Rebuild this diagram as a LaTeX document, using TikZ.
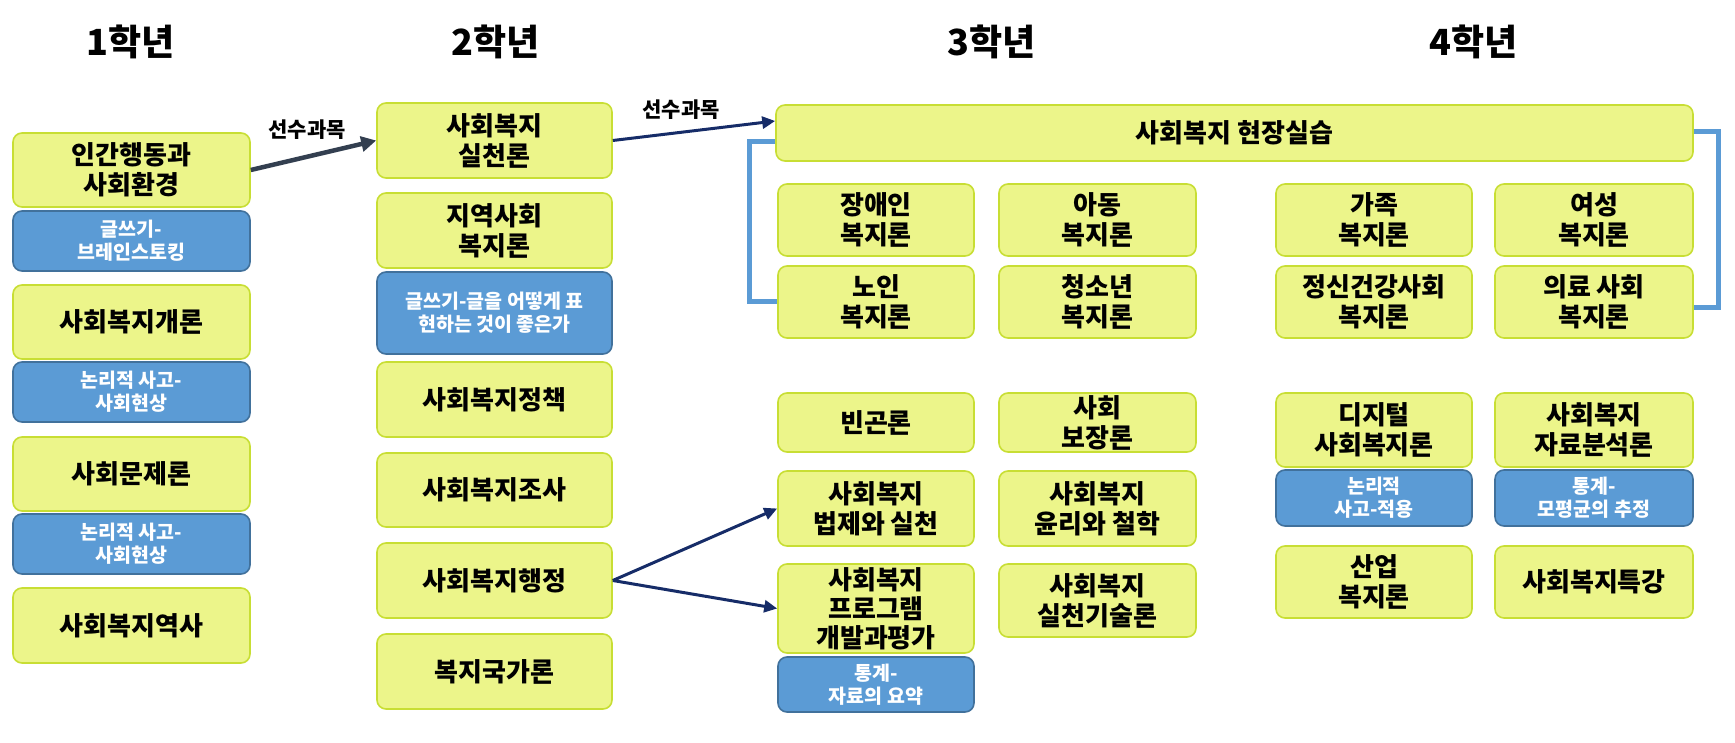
\documentclass[tikz,border=0pt]{standalone}
\usepackage{fontspec}
\setmainfont{Noto Sans CJK KR}[BoldFont={Noto Sans CJK KR Black}]
\usetikzlibrary{arrows.meta}
\definecolor{yfl}{RGB}{236,245,138}
\definecolor{ybd}{RGB}{200,222,52}
\definecolor{bfl}{RGB}{91,155,213}
\definecolor{bbd}{RGB}{65,113,156}
\definecolor{arA}{RGB}{51,63,80}
\definecolor{arB}{RGB}{22,44,104}
\definecolor{brc}{RGB}{91,155,213}
\tikzset{
  yb/.style={draw=ybd, fill=yfl, line width=1.6pt, rounded corners=9pt, align=center, inner sep=0pt,
    font=\bfseries\fontsize{26}{30}\selectfont, text=black},
  bb/.style={draw=bbd, fill=bfl, line width=1.6pt, rounded corners=9pt, align=center, inner sep=0pt,
    font=\bfseries\fontsize{19.5}{23}\selectfont, text=white},
  hd/.style={font=\bfseries\fontsize{36}{42}\selectfont},
  lab/.style={font=\bfseries\fontsize{21}{24}\selectfont},
  sz/.style 2 args={minimum width=#1pt, minimum height=#2pt},
  arrA/.style={draw=arA, line width=4.5pt, -{Triangle[length=15pt,width=15pt]}},
  arrB/.style={draw=arB, line width=3pt, -{Triangle[length=13pt,width=12pt]}},
  brk/.style={draw=brc, line width=5pt}
}
\begin{document}
\begin{tikzpicture}[x=1pt,y=-1pt]
\path[use as bounding box] (0,0) rectangle (1735,743);
% headers
\node[hd] (h1) at (130.5,42) {1학년};
\node[hd] (h2) at (496,42) {2학년};
\node[hd] (h3) at (992,42) {3학년};
\node[hd] (h4) at (1474,42) {4학년};
% column 1
\node[yb, sz={237}{74}] (n11) at (131.5,170) {인간행동과\\사회환경};
\node[bb, sz={237}{60}] (b11) at (131.5,241) {글쓰기-\\브레인스토킹};
\node[yb, sz={237}{74}] (n12) at (131.5,322) {사회복지개론};
\node[bb, sz={237}{60}] (b12) at (131.5,392) {논리적 사고-\\사회현상};
\node[yb, sz={237}{74}] (n13) at (131.5,474) {사회문제론};
\node[bb, sz={237}{60}] (b13) at (131.5,544) {논리적 사고-\\사회현상};
\node[yb, sz={237}{75}] (n14) at (131.5,625.5) {사회복지역사};
% column 2
\node[yb, sz={235}{75}] (n21) at (494.5,140.5) {사회복지\\실천론};
\node[yb, sz={235}{75}] (n22) at (494.5,230.5) {지역사회\\복지론};
\node[bb, sz={235}{82}] (b21) at (494.5,313) {글쓰기-글을 어떻게 표\\현하는 것이 좋은가};
\node[yb, sz={235}{75}] (n23) at (494.5,399.5) {사회복지정책};
\node[yb, sz={235}{74}] (n24) at (494.5,490) {사회복지조사};
\node[yb, sz={235}{75}] (n25) at (494.5,580.5) {사회복지행정};
\node[yb, sz={235}{75}] (n26) at (494.5,671.5) {복지국가론};
% top practicum
\node[yb, sz={917}{56}] (n30) at (1234.5,133) {사회복지 현장실습};
% column 3
\node[yb, sz={196}{72}] (n31) at (876,220) {장애인\\복지론};
\node[yb, sz={196}{72}] (n32) at (876,302) {노인\\복지론};
\node[yb, sz={197}{72}] (n33) at (1097.5,220) {아동\\복지론};
\node[yb, sz={197}{72}] (n34) at (1097.5,302) {청소년\\복지론};
\node[yb, sz={196}{59}] (n35) at (876,422.5) {빈곤론};
\node[yb, sz={196}{75}] (n36) at (876,508.5) {사회복지\\법제와 실천};
\node[yb, sz={196}{89}, font=\bfseries\fontsize{26}{29}\selectfont] (n37) at (876,608.5) {사회복지\\프로그램\\개발과평가};
\node[bb, sz={196}{55}] (b31) at (876,684.5) {통계-\\자료의 요약};
\node[yb, sz={197}{59}] (n38) at (1097.5,422.5) {사회\\보장론};
\node[yb, sz={197}{75}] (n39) at (1097.5,508.5) {사회복지\\윤리와 철학};
\node[yb, sz={197}{73}] (n3a) at (1097.5,600.5) {사회복지\\실천기술론};
% column 4
\node[yb, sz={196}{72}] (n41) at (1374,220) {가족\\복지론};
\node[yb, sz={196}{72}] (n42) at (1374,302) {정신건강사회\\복지론};
\node[yb, sz={198}{72}] (n43) at (1594,220) {여성\\복지론};
\node[yb, sz={198}{72}] (n44) at (1594,302) {의료 사회\\복지론};
\node[yb, sz={196}{74}] (n45) at (1374,430) {디지털\\사회복지론};
\node[bb, sz={196}{56}] (b41) at (1374,498) {논리적\\사고-적용};
\node[yb, sz={196}{72}] (n46) at (1374,582) {산업\\복지론};
\node[yb, sz={198}{74}] (n47) at (1594,430) {사회복지\\자료분석론};
\node[bb, sz={198}{56}] (b42) at (1594,498) {통계-\\모평균의 추정};
\node[yb, sz={198}{72}] (n48) at (1594,582) {사회복지특강};
% brackets
\draw[brk] ([yshift=-9pt]n30.west) -- ++(-26,0) |- (n32.west);
\draw[brk] ([yshift=1pt]n30.east) -- ++(25,0) |- ([yshift=-6pt]n44.east);
% arrows
\draw[arrA] (n11.east) -- (n21.west) node[lab, pos=0.45, above=12pt] (l1) {선수과목};
\draw[arrB] (n21.east) -- ([yshift=12pt]n30.west) node[lab, pos=0.42, above=8pt] (l2) {선수과목};
\draw[arrB] (n25.east) -- (n36.west);
\draw[arrB] (n25.east) -- (n37.west);
\end{tikzpicture}
\end{document}
